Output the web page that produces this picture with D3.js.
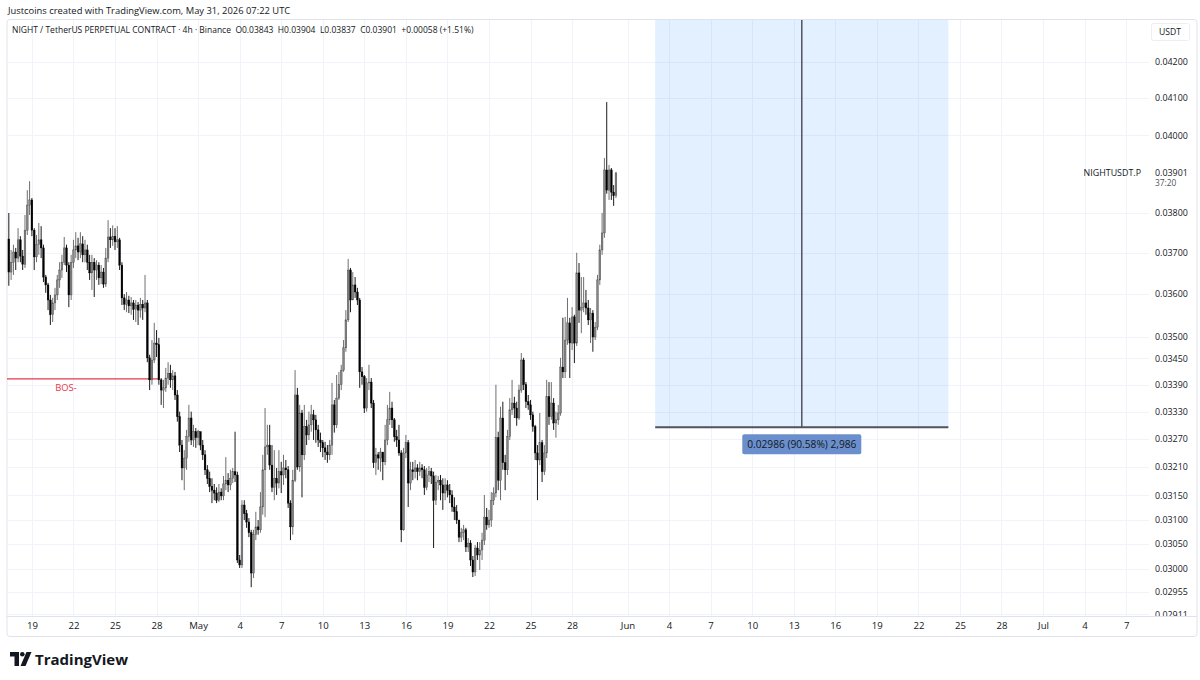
<!DOCTYPE html>
<html>
<head>
<meta charset="utf-8">
<script src="https://cdn.jsdelivr.net/npm/d3@7"></script>
<style>
  body { margin: 0; background: #fff; }
  svg { display: block; }
  text { font-family: "Open Sans", "Noto Sans", sans-serif; }
</style>
</head>
<body>
<svg id="chart"></svg>
<script>
// NIGHT / USDT perpetual, 4h bars, prices in units of 0.00001 USDT
const opens = [3734,3653,3677,3702,3687,3732,3692,3672,3756,3819,
3832,3756,3690,3720,3732,3712,3641,3622,3586,3551,
3579,3598,3634,3658,3677,3712,3670,3598,3677,3707,
3717,3702,3722,3695,3707,3677,3651,3677,3658,3670,
3639,3653,3624,3687,3739,3732,3741,3727,3732,3670,
3591,3576,3586,3572,3579,3564,3574,3562,3576,3567,
3579,3451,3401,3446,3485,3481,3401,3378,3383,3405,
3416,3401,3410,3367,3319,3257,3208,3229,3275,3316,
3268,3286,3273,3286,3257,3236,3204,3186,3169,3161,
3155,3140,3157,3149,3174,3182,3172,3186,3200,3193,
3018,3008,3130,3112,3095,3073,2992,3069,3085,3079,
3126,3204,3253,3257,3214,3167,3186,3176,3200,3193,
3208,3204,3134,3085,3182,3367,3210,3327,3236,3297,
3279,3301,3323,3312,3290,3268,3262,3251,3242,3236,
3257,3345,3301,3360,3390,3423,3474,3539,3658,3586,
3622,3605,3586,3419,3408,3338,3394,3396,3349,3219,
3236,3229,3242,3221,3268,3312,3338,3312,3275,3268,
3240,3079,3240,3262,3176,3204,3200,3208,3200,3208,
3204,3167,3193,3200,3191,3140,3178,3182,3172,3155,
3172,3161,3151,3126,3116,3099,3064,3073,3079,3044,
3052,3018,2994,3042,3028,3038,3058,3105,3089,3099,
3140,3155,3273,3182,3316,3219,3204,3275,3334,3349,
3338,3316,3378,3446,3390,3352,3345,3323,3297,3240,
3225,3262,3200,3240,3363,3319,3349,3305,3312,3327,
3430,3419,3492,3532,3485,3546,3485,3651,3562,3569,
3579,3567,3539,3555,3499,3522,3634,3707,3749,3909,
3857,3909,3852,3843];

const highs = [3799,3707,3720,3712,3761,3741,3707,3794,3857,3880,
3837,3761,3744,3774,3766,3720,3646,3627,3598,3591,
3615,3646,3677,3695,3739,3720,3677,3695,3732,3751,
3737,3751,3741,3732,3720,3695,3695,3687,3682,3677,
3670,3663,3712,3781,3761,3768,3761,3766,3737,3677,
3600,3605,3596,3593,3586,3586,3581,3591,3586,3646,
3586,3458,3492,3532,3515,3497,3405,3401,3428,3441,
3435,3423,3419,3378,3330,3268,3246,3290,3345,3330,
3301,3294,3290,3286,3268,3246,3214,3200,3186,3174,
3167,3174,3165,3191,3231,3197,3204,3208,3286,3200,
3028,3140,3140,3120,3103,3079,3079,3116,3099,3157,
3236,3338,3301,3301,3257,3246,3208,3246,3221,3236,
3225,3212,3140,3204,3423,3383,3345,3334,3345,3312,
3330,3345,3334,3323,3301,3284,3268,3264,3257,3268,
3394,3356,3412,3419,3435,3492,3562,3685,3663,3653,
3641,3615,3591,3430,3412,3405,3435,3405,3356,3251,
3242,3251,3242,3301,3345,3374,3352,3316,3290,3301,
3246,3251,3279,3268,3221,3221,3225,3216,3221,3216,
3212,3208,3212,3208,3200,3193,3191,3193,3186,3186,
3182,3174,3161,3146,3130,3099,3083,3089,3083,3062,
3058,3026,3048,3054,3054,3073,3151,3124,3120,3157,
3167,3390,3286,3341,3352,3236,3290,3360,3401,3363,
3352,3390,3462,3451,3396,3367,3356,3330,3301,3257,
3327,3268,3257,3401,3396,3396,3360,3330,3345,3451,
3544,3546,3591,3544,3569,3551,3700,3675,3641,3641,
3610,3586,3567,3562,3534,3646,3720,3799,3940,4089,
3922,3914,3870,3904];

const lows = [3620,3634,3646,3658,3677,3677,3658,3663,3744,3794,
3741,3658,3677,3695,3687,3629,3603,3562,3527,3534,
3562,3586,3615,3639,3670,3653,3569,3586,3663,3687,
3682,3687,3677,3677,3658,3634,3610,3593,3634,3622,
3624,3615,3617,3677,3712,3717,3707,3712,3658,3574,
3562,3557,3555,3551,3539,3534,3527,3544,3539,3557,
3441,3378,3390,3439,3453,3390,3345,3338,3374,3390,
3383,3378,3356,3308,3242,3182,3161,3204,3264,3257,
3253,3251,3257,3246,3225,3193,3174,3157,3134,3140,
3134,3136,3140,3140,3161,3157,3161,3176,3178,3012,
3002,3002,3099,3083,3064,2964,2982,3058,3069,3073,
3110,3105,3236,3204,3157,3140,3151,3165,3155,3172,
3186,3124,3058,3069,3178,3204,3200,3146,3225,3257,
3268,3286,3268,3262,3253,3242,3231,3225,3219,3225,
3236,3284,3294,3356,3378,3419,3465,3534,3557,3586,
3591,3574,3383,3390,3327,3330,3378,3338,3208,3193,
3204,3200,3182,3214,3257,3301,3294,3264,3253,3234,
3054,3077,3229,3126,3161,3182,3186,3182,3191,3186,
3151,3161,3178,3174,3042,3130,3161,3140,3120,3140,
3146,3134,3116,3099,3091,3054,3054,3058,3034,3034,
3006,2984,2986,3018,2998,3018,3048,3079,3083,3085,
3130,3146,3161,3140,3204,3161,3193,3268,3323,3316,
3299,3312,3372,3378,3338,3334,3312,3286,3225,3140,
3214,3178,3193,3229,3301,3312,3290,3273,3301,3321,
3405,3405,3481,3405,3469,3439,3478,3532,3508,3557,
3551,3527,3485,3465,3492,3515,3622,3695,3737,3848,
3832,3832,3817,3837];

const closes = [3653,3677,3702,3687,3732,3692,3672,3756,3819,3832,
3756,3690,3720,3732,3712,3641,3622,3586,3551,3579,
3598,3634,3658,3677,3712,3670,3598,3677,3707,3717,
3702,3722,3695,3707,3677,3651,3677,3658,3670,3639,
3653,3624,3687,3739,3732,3741,3727,3732,3670,3591,
3576,3586,3572,3579,3564,3574,3562,3576,3567,3579,
3451,3401,3446,3485,3481,3401,3378,3383,3405,3416,
3401,3410,3367,3319,3257,3208,3229,3275,3316,3268,
3286,3273,3286,3257,3236,3204,3186,3169,3161,3155,
3140,3157,3149,3174,3182,3172,3186,3200,3193,3018,
3008,3130,3112,3095,3073,2992,3069,3085,3079,3126,
3204,3253,3257,3214,3167,3186,3176,3200,3193,3208,
3204,3134,3085,3182,3367,3210,3327,3236,3297,3279,
3301,3323,3312,3290,3268,3262,3251,3242,3236,3257,
3345,3301,3360,3390,3423,3474,3539,3658,3586,3622,
3605,3586,3419,3408,3338,3394,3396,3349,3219,3236,
3229,3242,3221,3268,3312,3338,3312,3275,3268,3240,
3079,3240,3262,3176,3204,3200,3208,3200,3208,3204,
3167,3193,3200,3191,3140,3178,3182,3172,3155,3172,
3161,3151,3126,3116,3099,3064,3073,3079,3044,3052,
3018,2994,3042,3028,3038,3058,3105,3089,3099,3140,
3155,3273,3182,3316,3219,3204,3275,3334,3349,3338,
3316,3378,3446,3390,3352,3345,3323,3297,3240,3225,
3262,3200,3240,3363,3319,3349,3305,3312,3327,3430,
3419,3492,3532,3485,3546,3485,3651,3562,3569,3579,
3567,3539,3555,3499,3522,3634,3707,3749,3909,3857,
3909,3852,3843,3901];

const firstBar = Date.UTC(2026, 3, 17, 8);   // first visible 4h bar
const barMs = 4 * 3600 * 1000;

// axis ticks
const priceTicks = [0.042, 0.041, 0.040, 0.038, 0.037, 0.036, 0.035, 0.0345, 0.0339,
  0.0333, 0.0327, 0.0321, 0.0315, 0.031, 0.0305, 0.030, 0.02955, 0.02911];
const dateTicks = ["2026-04-19", "2026-04-22", "2026-04-25", "2026-04-28",
  "2026-05-01", "2026-05-04", "2026-05-07", "2026-05-10", "2026-05-13", "2026-05-16",
  "2026-05-19", "2026-05-22", "2026-05-25", "2026-05-28",
  "2026-06-01", "2026-06-04", "2026-06-07", "2026-06-10", "2026-06-13", "2026-06-16",
  "2026-06-19", "2026-06-22", "2026-06-25", "2026-06-28",
  "2026-07-01", "2026-07-04", "2026-07-07"];

// drawings
const lastPrice = 0.03901;
const bosLevel = 0.03403;
const bosFrom = "2026-04-14T18:00Z", bosTo = "2026-04-28T04:00Z";
const rangeLow = 0.03296, rangeHigh = 0.06282;
const rangeFrom = "2026-06-03T00:00Z", rangeTo = "2026-06-24T04:00Z";
const rangeLabel = "0.02986 (90.58%) 2,986";

const W = 1200, H = 680;
const pane = { left: 7, right: 1149, top: 20, bottom: 616 };

const svg = d3.select("#chart").attr("width", W).attr("height", H);
svg.append("rect").attr("width", W).attr("height", H).attr("fill", "#fff");

const bars = closes.map((c, i) => ({
  t: new Date(firstBar + i * barMs),
  o: opens[i] / 1e5, h: highs[i] / 1e5, l: lows[i] / 1e5, c: c / 1e5
}));

const x = d3.scaleUtc()
  .domain([new Date("2026-04-19T00:00Z"), new Date("2026-06-01T00:00Z")])
  .range([31.9, 627.5]);
const y = d3.scaleLog()
  .domain([0.02911, 0.042])
  .range([614.4, 61.7]);

// clip paths
const defs = svg.append("defs");
defs.append("clipPath").attr("id", "paneClip").append("rect")
  .attr("x", pane.left).attr("y", pane.top)
  .attr("width", pane.right - pane.left).attr("height", pane.bottom - pane.top);
defs.append("clipPath").attr("id", "scaleClip").append("rect")
  .attr("x", pane.right).attr("y", pane.top)
  .attr("width", W - pane.right).attr("height", pane.bottom - pane.top);

// header
svg.append("text").attr("x", 8).attr("y", 13.5)
  .attr("font-size", 9.4).attr("fill", "#131722")
  .text("Justcoins created with TradingView.com, May 31, 2026 07:22 UTC");

// frame
svg.append("rect")
  .attr("x", 7).attr("y", 19.5).attr("width", 1190).attr("height", 617)
  .attr("rx", 3).attr("fill", "none").attr("stroke", "#e0e3eb");
svg.append("line")
  .attr("x1", 7).attr("x2", 1197).attr("y1", 616.5).attr("y2", 616.5)
  .attr("stroke", "#e0e3eb");

const plot = svg.append("g").attr("clip-path", "url(#paneClip)");

// grid
plot.append("g").selectAll("line")
  .data(priceTicks).join("line")
  .attr("x1", pane.left).attr("x2", pane.right)
  .attr("y1", d => Math.round(y(d)) + 0.5).attr("y2", d => Math.round(y(d)) + 0.5)
  .attr("stroke", "#f0f3fa");
plot.append("g").selectAll("line")
  .data(dateTicks).join("line")
  .attr("x1", d => Math.round(x(new Date(d))) + 0.5).attr("x2", d => Math.round(x(new Date(d))) + 0.5)
  .attr("y1", pane.top).attr("y2", pane.bottom)
  .attr("stroke", "#f0f3fa");

// date & price range drawing
const rx0 = x(new Date(rangeFrom)), rx1 = x(new Date(rangeTo));
const rxm = (rx0 + rx1) / 2;
plot.append("rect")
  .attr("x", rx0).attr("width", rx1 - rx0)
  .attr("y", y(rangeHigh)).attr("height", y(rangeLow) - y(rangeHigh))
  .attr("fill", "rgba(41,140,255,0.13)");
plot.append("line")
  .attr("x1", rxm).attr("x2", rxm).attr("y1", y(rangeHigh)).attr("y2", y(rangeLow))
  .attr("stroke", "#50535e").attr("stroke-width", 1.5);
plot.append("line")
  .attr("x1", rx0).attr("x2", rx1).attr("y1", y(rangeLow)).attr("y2", y(rangeLow))
  .attr("stroke", "#50535e").attr("stroke-width", 2);

const lblW = 119, lblY = y(rangeLow) + 7;
svg.append("rect")
  .attr("x", rxm - lblW / 2).attr("y", lblY).attr("width", lblW).attr("height", 20)
  .attr("rx", 2).attr("fill", "#6b8fcd");
svg.append("text")
  .attr("x", rxm).attr("y", lblY + 10).attr("dy", "0.35em")
  .attr("text-anchor", "middle").attr("font-size", 10.2).attr("fill", "#131722")
  .text(rangeLabel);

// BOS line
plot.append("line")
  .attr("x1", x(new Date(bosFrom))).attr("x2", x(new Date(bosTo)))
  .attr("y1", y(bosLevel)).attr("y2", y(bosLevel))
  .attr("stroke", "#e8364a").attr("stroke-width", 1.3);
plot.append("text")
  .attr("x", (x(new Date(bosFrom)) + x(new Date(bosTo))) / 2)
  .attr("y", y(bosLevel) + 9).attr("dy", "0.35em")
  .attr("text-anchor", "middle").attr("font-size", 9.4).attr("fill", "#e8364a")
  .text("BOS-");

// candles
const bw = (x(new Date(firstBar + barMs)) - x(new Date(firstBar))) * 0.75;
const up = d => d.c >= d.o;
const candle = plot.append("g").selectAll("g")
  .data(bars).join("g");
candle.append("line")
  .attr("x1", d => x(d.t)).attr("x2", d => x(d.t))
  .attr("y1", d => y(d.h)).attr("y2", d => y(d.l))
  .attr("stroke", d => up(d) ? "#5f5f5f" : "#000")
  .attr("stroke-width", 0.9);
candle.append("rect")
  .attr("x", d => x(d.t) - bw / 2).attr("width", bw)
  .attr("y", d => y(Math.max(d.o, d.c)))
  .attr("height", d => Math.max(0.8, Math.abs(y(d.o) - y(d.c))))
  .attr("fill", d => up(d) ? "#858585" : "#000")
  .attr("stroke", d => up(d) ? "#4a4a4a" : "#000")
  .attr("stroke-width", 0.4);

// legend
svg.append("text").attr("x", 12).attr("y", 33)
  .attr("font-size", 8.5).attr("fill", "#131722")
  .attr("xml:space", "preserve")
  .text("NIGHT / TetherUS PERPETUAL CONTRACT · 4h · Binance  O0.03843  H0.03904  L0.03837  C0.03901  +0.00058 (+1.51%)");

// price scale
const yAxis = d3.axisRight(y)
  .tickValues(priceTicks)
  .tickFormat(d3.format(".5f"))
  .tickSize(0).tickPadding(0);
const ya = svg.append("g")
  .attr("clip-path", "url(#scaleClip)")
  .append("g")
  .attr("transform", "translate(1155,0)")
  .call(yAxis);
ya.select(".domain").remove();
ya.selectAll("text").attr("font-size", 8.9).attr("fill", "#131722")
  .attr("font-family", "\"Open Sans\", sans-serif");

// last price
const ly = y(lastPrice);
svg.append("text").attr("x", 1141).attr("y", ly).attr("dy", "0.35em")
  .attr("text-anchor", "end").attr("font-size", 8.9).attr("fill", "#131722")
  .text("NIGHTUSDT.P");
svg.append("text").attr("x", 1155).attr("y", ly - 0.5).attr("dy", "0.35em")
  .attr("font-size", 8.9).attr("fill", "#131722")
  .text(d3.format(".5f")(lastPrice));
svg.append("text").attr("x", 1155).attr("y", ly + 10.5).attr("dy", "0.35em")
  .attr("font-size", 8.4).attr("fill", "#50535e")
  .text("37:20");

// currency badge
svg.append("rect").attr("x", 1151.5).attr("y", 23.5).attr("width", 38).attr("height", 17)
  .attr("rx", 2).attr("fill", "#fff").attr("stroke", "#eceef2");
svg.append("text").attr("x", 1170).attr("y", 32).attr("dy", "0.35em")
  .attr("text-anchor", "middle").attr("font-size", 8.6).attr("fill", "#131722")
  .text("USDT");

// time scale
const monthFmt = d3.utcFormat("%b"), dayFmt = d3.utcFormat("%-d");
const xAxis = d3.axisBottom(x)
  .tickValues(dateTicks.map(d => new Date(d + "T00:00Z")))
  .tickFormat(d => d.getUTCDate() === 1 ? monthFmt(d) : dayFmt(d))
  .tickSize(0).tickPadding(0);
const xa = svg.append("g").attr("transform", "translate(0,622)").call(xAxis);
xa.select(".domain").remove();
xa.selectAll("text").attr("font-size", 9.6).attr("fill", "#131722")
  .attr("font-family", "\"Open Sans\", sans-serif");

// TradingView logo
const logo = svg.append("g").attr("transform", "translate(10,652)").attr("fill", "#131722");
logo.append("path").attr("d", "M0 0H9V14H4.5V4.5H0Z");
logo.append("circle").attr("cx", 12.3).attr("cy", 2.3).attr("r", 2.3);
logo.append("path").attr("d", "M16.5 0H21.5L15.5 14H10.5Z");
svg.append("text").attr("x", 35).attr("y", 665)
  .attr("font-size", 15).attr("font-weight", 700).attr("fill", "#131722")
  .attr("font-family", "Inter, \"Open Sans\", sans-serif")
  .text("TradingView");
</script>
</body>
</html>
